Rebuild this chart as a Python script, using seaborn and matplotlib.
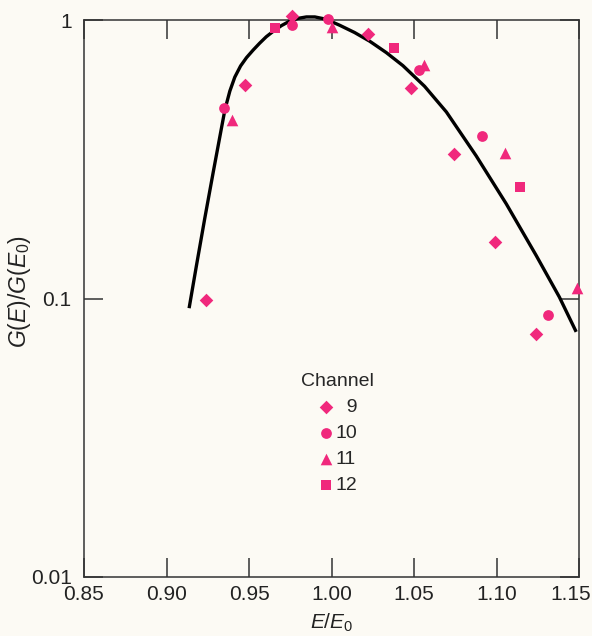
import matplotlib
matplotlib.use("Agg")
import matplotlib.pyplot as plt
import matplotlib.transforms as mtransforms
import seaborn as sns
import pandas as pd

# ---- data ----
curve_x = [0.9137, 0.9182, 0.9232, 0.9283, 0.9323, 0.9354, 0.9384, 0.9414,
           0.9449, 0.9485, 0.9525, 0.9565, 0.9605, 0.9646, 0.9697, 0.9747,
           0.9798, 0.9848, 0.9899, 0.9949, 1.0000, 1.0050, 1.0140, 1.0231,
           1.0332, 1.0433, 1.0564, 1.0696, 1.0877, 1.1059, 1.1240, 1.1381,
           1.1483]
curve_y = [0.0923, 0.1318, 0.1941, 0.2838, 0.3802, 0.4764, 0.5559, 0.6237,
           0.6839, 0.7328, 0.7798, 0.8260, 0.8710, 0.9099, 0.9550, 0.9908,
           1.0139, 1.0257, 1.0257, 1.0116, 0.9863, 0.9572, 0.9016, 0.8395,
           0.7638, 0.6855, 0.5781, 0.4677, 0.3251, 0.2188, 0.1429, 0.1012,
           0.0759]

ch9_x = [0.924, 0.9475, 0.976, 1.022, 1.048, 1.074, 1.099, 1.124]
ch9_y = [0.099, 0.584, 1.03, 0.891, 0.570, 0.330, 0.160, 0.0746]
ch10_x = [0.935, 0.976, 0.998, 1.053, 1.091, 1.131]
ch10_y = [0.483, 0.96, 1.01, 0.661, 0.383, 0.0872]
ch11_x = [0.9396, 1.000, 1.056, 1.105, 1.149]
ch11_y = [0.437, 0.944, 0.689, 0.333, 0.109]
ch12_x = [0.966, 1.038, 1.1145]
ch12_y = [0.936, 0.793, 0.251]

channels = ["9", "10", "11", "12"]
x_ticks = [0.85, 0.90, 0.95, 1.00, 1.05, 1.10, 1.15]
x_tick_labels = ["0.85", "0.90", "0.95", "1.00", "1.05", "1.10", "1.15"]
y_ticks = [0.01, 0.1, 1]
y_tick_labels = ["0.01", "0.1", "1"]

# ---- styling ----
BG = "#FCFAF4"
PINK = "#F0287C"
sns.set_style("ticks")
plt.rcParams["font.family"] = ["Liberation Sans", "DejaVu Sans"]
plt.rcParams["mathtext.fontset"] = "custom"
plt.rcParams["mathtext.rm"] = "Liberation Sans"
plt.rcParams["mathtext.it"] = "Liberation Sans:italic"

series = [
    (channels[0], ch9_x, ch9_y, "D", 48),
    (channels[1], ch10_x, ch10_y, "o", 60),
    (channels[2], ch11_x, ch11_y, "^", 70),
    (channels[3], ch12_x, ch12_y, "s", 52),
]
df_curve = pd.DataFrame({"x": curve_x, "y": curve_y})

fig = plt.figure(figsize=(5.92, 6.36), dpi=100, facecolor=BG)
ax = fig.add_axes([84 / 592, 1 - 577 / 636, (579 - 84) / 592, (577 - 20) / 636])
ax.set_facecolor(BG)

sns.lineplot(data=df_curve, x="x", y="y", ax=ax, color="black", lw=2.4,
             sort=False, clip_on=False, zorder=3,
             solid_joinstyle="round", solid_capstyle="butt")
for name, xs, ys, mk, sz in series:
    lab = ("  " + name) if len(name) == 1 else name
    sns.scatterplot(x=xs, y=ys, ax=ax, marker=mk, s=sz, color=PINK,
                    linewidth=0, clip_on=False, zorder=4, label=lab)

ax.set_yscale("log")
ax.set_xlim(0.85, 1.15)
ax.set_ylim(0.01, 1)
ax.set_xticks(x_ticks)
ax.set_xticklabels(x_tick_labels)
ax.set_yticks(y_ticks)
ax.set_yticklabels(y_tick_labels)
ax.minorticks_off()
ax.tick_params(axis="both", which="major", direction="in", length=14,
               width=1.1, color="#333333", labelsize=15, labelcolor="#222222",
               top=True, right=True)
ax.tick_params(axis="x", pad=6)
ax.tick_params(axis="y", pad=9)
for sp in ax.spines.values():
    sp.set_visible(True)
    sp.set_linewidth(1.1)
    sp.set_color("#333333")

# last x tick label sits a little to the left of its tick, as in the reference
last = ax.get_xticklabels()[-1]
last.set_transform(last.get_transform() +
                   mtransforms.ScaledTranslation(-8 / 100, 0, fig.dpi_scale_trans))

ax.set_xlabel(r"$\mathit{E/E_0}$", fontsize=15, color="#222222")
ax.set_ylabel(r"$\mathit{G(E)/G(E_0)}$", fontsize=16.5, color="#222222")
ax.xaxis.set_label_coords(0.5, -0.063)
ax.yaxis.set_label_coords(-0.103, 0.512)

leg = ax.legend(title="Channel", loc="center",
                bbox_to_anchor=(0.513, 0.257), bbox_transform=ax.transAxes,
                frameon=False, fontsize=14, title_fontsize=14,
                handlelength=0.8, handletextpad=0.1, labelspacing=0.43,
                borderpad=0, markerscale=1.0)

fig.savefig("out.png", dpi=100, facecolor=BG)
